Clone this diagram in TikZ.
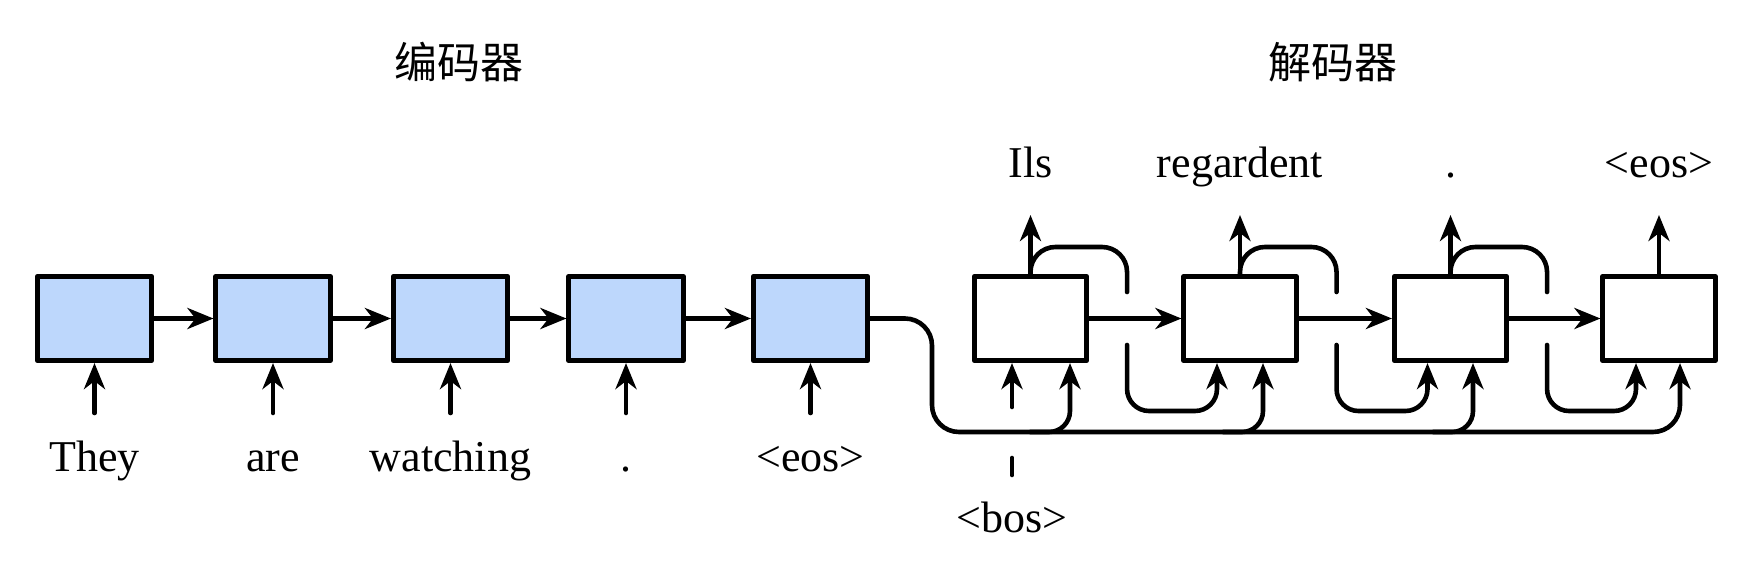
\documentclass[tikz,border=0pt]{standalone}
\usepackage{fontspec}
\setmainfont{Liberation Serif}
\newfontfamily\cjk{Noto Sans CJK SC}
\usetikzlibrary{arrows.meta,calc}
\definecolor{encfill}{RGB}{189,215,252}
\begin{document}
\begin{tikzpicture}[x=1pt,y=-1pt, line width=4.6pt, line cap=round, line join=round,
  encbox/.style={draw, fill=encfill, minimum width=114.5pt, minimum height=84.5pt, inner sep=0pt},
  decbox/.style={draw, fill=white, minimum width=112.5pt, minimum height=84.5pt, inner sep=0pt},
  arr/.style={-{Stealth[length=26pt,width=21pt,inset=8pt]}},
  word/.style={font=\fontsize{44}{50}\selectfont, anchor=base, inner sep=0pt},
  title/.style={font=\cjk\fontsize{43}{50}\selectfont, inner sep=0pt},
  rc/.style={rounded corners=25pt},
  rcl/.style={rounded corners=22pt}]
\fill[white] (0,0) rectangle (1741,570);
\useasboundingbox (0,0) rectangle (1741,570);

% titles
\node[title] (tenc) at (459,62) {编码器};
\node[title] (tdec) at (1333,62) {解码器};

% helper levels
\coordinate (yin) at (0,413);
\coordinate (ywd) at (0,471);
\coordinate (yout) at (0,215);
\coordinate (ytw) at (0,177);
\coordinate (ytl) at (0,247);
\coordinate (ygt) at (0,292);
\coordinate (ygb) at (0,345);
\coordinate (ylb) at (0,411);
\coordinate (ybl) at (0,432);

% encoder
\node[encbox] (e1) at (94.5,318.5) {};
\node[encbox] (e2) at (273,318.5) {};
\node[encbox] (e3) at (450.5,318.5) {};
\node[encbox] (e4) at (626,318.5) {};
\node[encbox] (e5) at (810.5,318.5) {};
\foreach \a/\b in {e1/e2,e2/e3,e3/e4,e4/e5} \draw[arr] (\a.east) -- (\b.west);
\foreach \e/\w in {e1/They,e2/are,e3/watching,e4/.,e5/<eos>}{
  \coordinate (\e i) at (\e.south |- yin);
  \draw[arr] (\e i) -- (\e.south);
  \node[word] (\e w) at (\e.south |- ywd) {\w};
}

% decoder
\node[decbox] (d1) at (1030.5,318.5) {};
\node[decbox] (d2) at (1240,318.5) {};
\node[decbox] (d3) at (1450.5,318.5) {};
\node[decbox] (d4) at (1659,318.5) {};
\foreach \a/\b in {d1/d2,d2/d3,d3/d4} \draw[arr] (\a.east) -- (\b.west);
\foreach \d/\w in {d1/Ils,d2/regardent,d3/.,d4/<eos>}{
  \coordinate (\d o) at (\d.north |- yout);
  \draw[arr] (\d.north) -- (\d o);
  \node[word] (\d w) at (\d.north |- ytw) {\w};
}

% feedback loops
\foreach \a/\b in {d1/d2,d2/d3,d3/d4}{
  \coordinate (\a lp) at ([xshift=38pt]\a.east);
  \coordinate (\b li) at ([xshift=-23pt]\b.south);
  \draw[rc] (\a.north) -- (\a.north |- ytl) -- (\a lp |- ytl) -- (\a lp |- ygt);
  \draw[arr,rcl] (\a lp |- ygb) -- (\a lp |- ylb) -- (\b li |- ylb) -- (\b li);
}

% bos input
\coordinate (d1b) at ([xshift=-18.5pt]d1.south);
\coordinate (d1bs) at (d1b |- 0,407);
\draw[arr] (d1bs) -- (d1b);
\draw (1012,458) -- (1012,475);
\node[word] (bos) at (1012,532) {<bos>};

% context line
\coordinate (d1c) at ([xshift=39.5pt]d1.south);
\coordinate (d2c) at ([xshift=23pt]d2.south);
\coordinate (d3c) at ([xshift=22.5pt]d3.south);
\coordinate (d4c) at ([xshift=21pt]d4.south);
\coordinate (ctxd) at (932,0);
\draw[arr,rounded corners=27pt] (e5.east) -- (ctxd |- e5.east) -- (ctxd |- ybl) -- (d4c |- ybl) -- (d4c);
\foreach \c in {d1c,d2c,d3c}
  \draw[arr,rounded corners=21pt] ([xshift=-40pt]\c |- ybl) -- (\c |- ybl) -- (\c);
\end{tikzpicture}
\end{document}
